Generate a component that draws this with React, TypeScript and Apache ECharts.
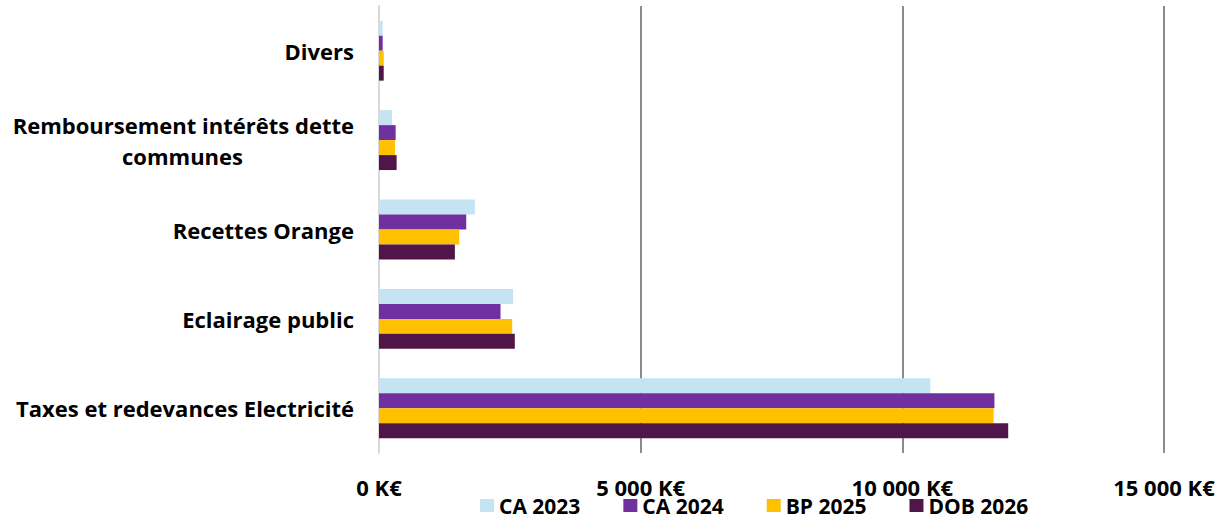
import React, { useEffect, useRef } from "react";
import * as echarts from "echarts";

const categories = [
  "Taxes et redevances Electricité",
  "Eclairage public",
  "Recettes Orange",
  "Remboursement intérêts dette communes",
  "Divers",
];
const seriesNames = ["CA 2023", "CA 2024", "BP 2025", "DOB 2026"];
const ca2023 = [10534, 2563, 1832, 248, 70];
const ca2024 = [11760, 2322, 1667, 318, 70];
const bp2025 = [11744, 2545, 1533, 305, 90];
const dob2026 = [12023, 2595, 1450, 337, 90];
const xTicks = [0, 5000, 10000, 15000];
const colors = ["#C4E4F4", "#7030A0", "#FFC000", "#50164A"];

const FONT = "Open Sans";

function fmtK(v: number) {
  return v.toString().replace(/\B(?=(\d{3})+(?!\d))/g, " ") + " K€";
}

export default function App() {
  const ref = useRef<HTMLDivElement>(null);
  useEffect(() => {
    if (!ref.current) return;
    const chart = echarts.init(ref.current, undefined, { renderer: "svg" });
    const values = [ca2023, ca2024, bp2025, dob2026];
    chart.setOption({
      animation: false,
      backgroundColor: "#ffffff",
      color: colors,
      grid: { left: 379, right: 56, top: 6, bottom: 64, containLabel: false },
      legend: {
        data: seriesNames,
        bottom: 1,
        left: 480,
        padding: 0,
        itemWidth: 14,
        itemHeight: 13,
        itemGap: 43,
        icon: "rect",
        textStyle: {
          fontFamily: FONT,
          fontWeight: "bold",
          fontSize: 21,
          lineHeight: 16,
          color: "#000",
        },
      },
      xAxis: {
        type: "value",
        min: xTicks[0],
        max: xTicks[xTicks.length - 1],
        interval: 5000,
        axisLine: { show: false },
        axisTick: { show: false },
        axisLabel: {
          margin: 25,
          formatter: (v: number) => fmtK(v),
          fontFamily: FONT,
          fontWeight: "bold",
          fontSize: 22,
          lineHeight: 18,
          color: "#000",
        },
        splitLine: {
          show: true,
          lineStyle: { color: ["#d9d9d9", "#8c8c8c", "#8c8c8c", "#8c8c8c"], width: 2 },
        },
      },
      yAxis: {
        type: "category",
        data: categories,
        axisLine: { show: true, lineStyle: { color: "#d9d9d9", width: 2 } },
        axisTick: { show: false },
        axisLabel: {
          margin: 25,
          fontFamily: FONT,
          fontWeight: "bold",
          fontSize: 22,
          color: "#000",
          lineHeight: 31,
          formatter: (v: string) =>
            v === "Remboursement intérêts dette communes"
              ? "Remboursement intérêts dette\n{c|communes}"
              : v,
          rich: {
            c: {
              fontFamily: FONT,
              fontWeight: "bold",
              fontSize: 22,
              color: "#000",
              lineHeight: 31,
              padding: [0, 111, 0, 0],
            },
          },
        },
      },
      series: seriesNames.map((name, i) => ({
        name,
        type: "bar",
        data: values[i],
        barGap: "0%",
        barCategoryGap: "33%",
        itemStyle: { color: colors[i] },
      })),
    });
    return () => chart.dispose();
  }, []);
  return (
    <div
      ref={ref}
      style={{ position: "fixed", left: 0, top: 0, width: 1220, height: 517 }}
    />
  );
}
